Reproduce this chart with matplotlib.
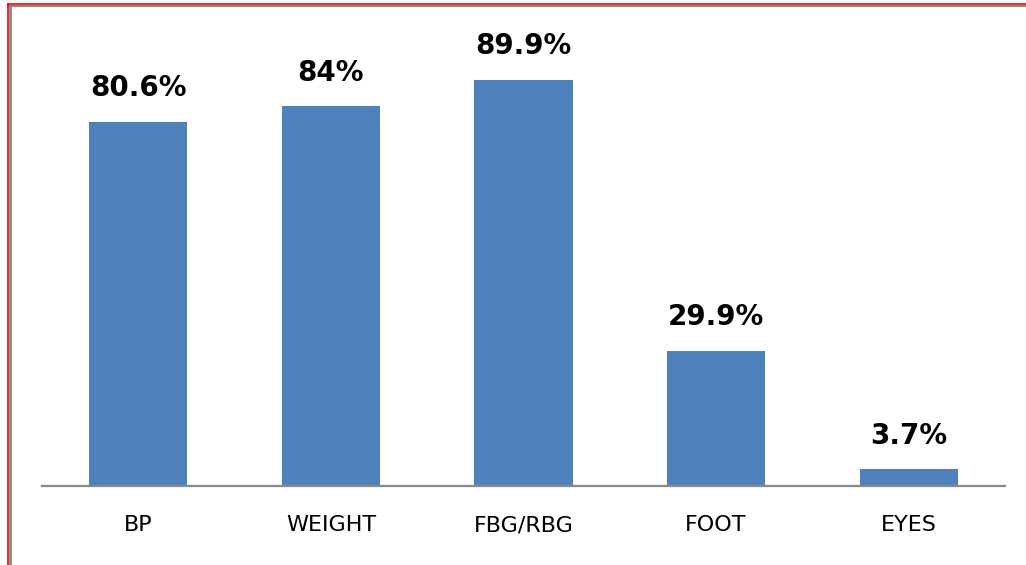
import matplotlib
matplotlib.use("Agg")
import matplotlib.pyplot as plt
from matplotlib.lines import Line2D

categories = ["BP", "WEIGHT", "FBG/RBG", "FOOT", "EYES"]
values = [80.6, 84.0, 89.9, 29.9, 3.7]
labels = ["80.6%", "84%", "89.9%", "29.9%", "3.7%"]

W, H = 1026, 565
fig = plt.figure(figsize=(W / 100, H / 100), dpi=100)
ax = fig.add_axes([42 / W, 79 / H, (1005 - 42) / W, (486 - 34) / H])

x = list(range(len(categories)))
bars = ax.bar(x, values, width=0.51, color="#4F81BD")
ax.set_xlim(-0.5, len(categories) - 0.5)
ax.set_ylim(0, 100)

for xi, v, lab in zip(x, values, labels):
    ax.annotate(lab, (xi, v), xytext=(0, 14), textcoords="offset points",
                ha="center", va="bottom", fontsize=20, fontweight="bold",
                color="black")

ax.set_xticks(x)
ax.set_xticklabels(categories, fontsize=16)
ax.tick_params(axis="x", length=0, pad=21)
ax.set_yticks([])
for s in ["top", "right", "left"]:
    ax.spines[s].set_visible(False)
ax.spines["bottom"].set_color("#888888")
ax.spines["bottom"].set_linewidth(1.6)

# frame lines (red outer, gray inner) at top and left
fig.add_artist(Line2D([8 / W, 1], [1 - 5.5 / H, 1 - 5.5 / H], color="#888888", lw=1.5, transform=fig.transFigure))
fig.add_artist(Line2D([10 / W, 10 / W], [0, 1 - 5 / H], color="#888888", lw=2, transform=fig.transFigure))
fig.add_artist(Line2D([8 / W, 1], [1 - 4 / H, 1 - 4 / H], color="red", lw=1.2, transform=fig.transFigure))
fig.add_artist(Line2D([8 / W, 8 / W], [0, 1 - 4 / H], color="red", lw=1.2, transform=fig.transFigure))

fig.savefig("out.png", dpi=100)
